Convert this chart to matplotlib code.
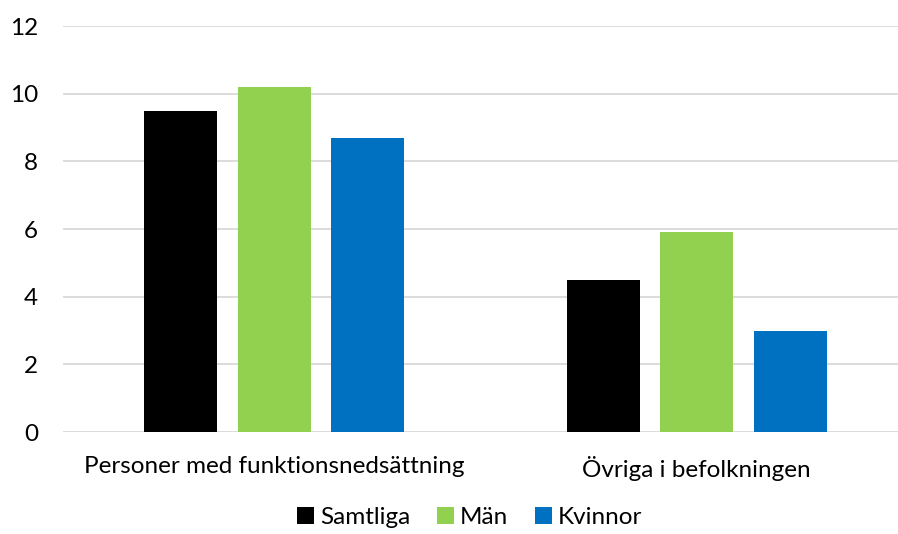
import matplotlib
matplotlib.use("Agg")
import matplotlib.pyplot as plt
import numpy as np

categories = ["Personer med funktionsnedsättning", "Övriga i befolkningen"]
series = ["Samtliga", "Män", "Kvinnor"]
samtliga = [9.5, 4.5]
man = [10.2, 5.9]
kvinnor = [8.7, 3.0]
colors = ["#000000", "#92D050", "#0070C0"]

plt.rcParams["font.family"] = ["Lato", "DejaVu Sans"]

fig = plt.figure(figsize=(8.98, 5.34), dpi=100)
ax = fig.add_axes([0.0702, 0.191, 0.941, 0.760])

x = np.arange(len(categories))
width = 0.173
step = 0.221
for i, (vals, name) in enumerate(zip([samtliga, man, kvinnor], series)):
    ax.bar(x + (i - 1) * step, vals, width, color=colors[i], label=name, zorder=3)

ax.set_xlim(-0.5, 1.5)
ax.set_ylim(0, 12)
ax.set_yticks(range(0, 13, 2))
ax.yaxis.grid(True, color="#D9D9D9", linewidth=1.3, zorder=0)
ax.set_xticks(x)
ax.set_xticklabels(categories)
for s in ax.spines.values():
    s.set_visible(False)
ax.tick_params(axis="both", length=0, labelsize=17.5, colors="#000000")
ax.tick_params(axis="y", pad=18)
ax.tick_params(axis="x", pad=17)

fig.legend(loc="lower center", bbox_to_anchor=(0.523, -0.03), ncol=3, frameon=False,
           fontsize=17.5, handlelength=0.7, handleheight=0.7, handletextpad=0.25,
           columnspacing=1.1)

fig.savefig("out.png", dpi=100)
